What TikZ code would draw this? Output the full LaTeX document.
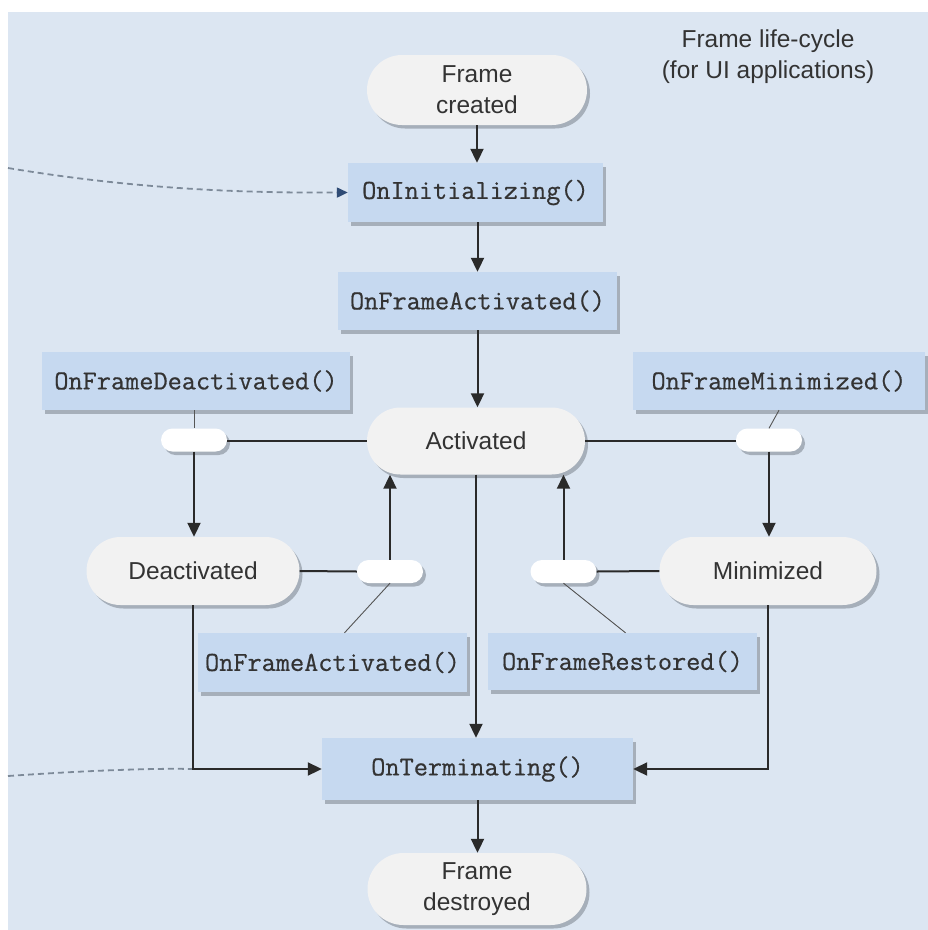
\documentclass[tikz,border=0pt]{standalone}
\usepackage{fontspec}
\setmainfont{Liberation Sans}
\newfontfamily\codefont{Latin Modern Mono}[FakeBold=0.6]
\usetikzlibrary{arrows.meta,shapes.misc,shadows,calc}
\definecolor{bgblue}{HTML}{DCE6F2}
\definecolor{boxblue}{HTML}{C6D9F0}
\definecolor{pillgray}{HTML}{F2F2F2}
\definecolor{linegray}{HTML}{2A2A2A}
\definecolor{dashgray}{HTML}{7D8A99}
\definecolor{tipblue}{HTML}{2F4B75}
\definecolor{txt}{HTML}{333333}
\definecolor{shade}{HTML}{9DA6B1}

\begin{document}
\begin{tikzpicture}[x=1pt,y=-1pt,
  font=\fontsize{24.5}{31}\selectfont, text=txt,
  shadowed/.style={drop shadow={shadow xshift=3pt,shadow yshift=-3.5pt,fill=shade,opacity=0.85}},
  state/.style={rounded rectangle, fill=pillgray, shadowed, align=center, inner sep=0pt},
  handler/.style={rectangle, fill=boxblue, shadowed, inner sep=0pt,
    font=\codefont\fontsize{27.5}{30}\selectfont},
  junction/.style={rounded rectangle, fill=white, shadowed, minimum width=66pt,
    minimum height=23pt, inner sep=0pt},
  flow/.style={draw=linegray, line width=2pt, -{Triangle[length=14pt,width=13pt]}},
  link/.style={draw=linegray, line width=2pt},
  note/.style={draw=linegray!80, line width=0.9pt},
  entry/.style={draw=dashgray, line width=1.8pt, dash pattern=on 6pt off 4pt},
]

% canvas and panel
\fill[white] (0,0) rectangle (928,930);
\fill[bgblue] (8,12) rectangle (928,930);
\useasboundingbox (0,0) rectangle (928,930);

% title
\node[align=center] (title) at (768,57) {Frame life-cycle\\(for UI applications)};

% states
\node[state, minimum width=220pt, minimum height=70pt] (created) at (477,90) {Frame\\created};
\node[state, minimum width=218pt, minimum height=67pt] (act) at (476,441) {Activated};
\node[state, minimum width=213pt, minimum height=68pt] (deact) at (193,571) {Deactivated};
\node[state, minimum width=217pt, minimum height=68pt] (mini) at (768,571) {Minimized};
\node[state, minimum width=219pt, minimum height=72pt] (destroyed) at (477,889) {Frame\\destroyed};

% handlers
\node[handler, minimum width=255pt, minimum height=59pt] (init) at (475.5,192.5) {OnInitializing()};
\node[handler, minimum width=279pt, minimum height=58pt] (fa1) at (477.5,301) {OnFrameActivated()};
\node[handler, minimum width=308pt, minimum height=58pt] (fd) at (196,381) {OnFrameDeactivated()};
\node[handler, minimum width=292pt, minimum height=58pt] (fm) at (779,381) {OnFrameMinimized()};
\node[handler, minimum width=269pt, minimum height=59pt] (fa2) at (332.5,662.5) {OnFrameActivated()};
\node[handler, minimum width=269pt, minimum height=57pt] (fr) at (622.5,661.5) {OnFrameRestored()};
\node[handler, minimum width=311pt, minimum height=62pt] (term) at (477.5,769) {OnTerminating()};

% transition junctions
\node[junction] (jd) at (194,440) {};
\node[junction] (jm) at (769,440) {};
\node[junction] (jda) at (390,571.5) {};
\node[junction] (jmr) at (563.5,571.5) {};

% external entry points
\coordinate (ein) at (8,168);
\coordinate (eout) at (8,776);

% entry connectors
\draw[entry, -{Triangle[length=11pt,width=10pt,color=tipblue]}]
  (ein) .. controls (140,190) and (250,193) .. (init.west);
\draw[entry] (eout) .. controls (80,771) and (150,768) .. (deact.south |- term.west);

% main flow
\draw[flow] (created.south) -- (created.south |- init.north);
\draw[flow] (fa1.north |- init.south) -- (fa1.north);
\draw[flow] (fa1.south) -- (fa1.south |- act.north);
\draw[flow] (act.south) -- (act.south |- term.north);
\draw[flow] (term.south) -- (term.south |- destroyed.north);

% deactivation and reactivation
\draw[link] (act.west) -- (jd.east |- act.west);
\draw[flow] (jd.south) -- (jd.south |- deact.north);
\draw[link] (deact.east) -- (jda.west);
\draw[flow] (jda.north) -- (jda.north |- act.south);

% minimize and restore
\draw[link] (act.east) -- (jm.west |- act.east);
\draw[flow] (jm.south) -- (jm.south |- mini.north);
\draw[link] (mini.west) -- (jmr.east);
\draw[flow] (jmr.north) -- (jmr.north |- act.south);

% termination paths
\draw[flow] (deact.south) |- (term.west);
\draw[flow] (mini.south) |- (term.east);

% handler annotations
\draw[note] (fd.south -| jd.north) -- (jd.north);
\draw[note] (fm.south) -- (jm.north);
\draw[note] (jda.south) -- ($(fa2.north)+(12,0)$);
\draw[note] (jmr.south) -- ($(fr.north)+(3,0)$);

\end{tikzpicture}
\end{document}
